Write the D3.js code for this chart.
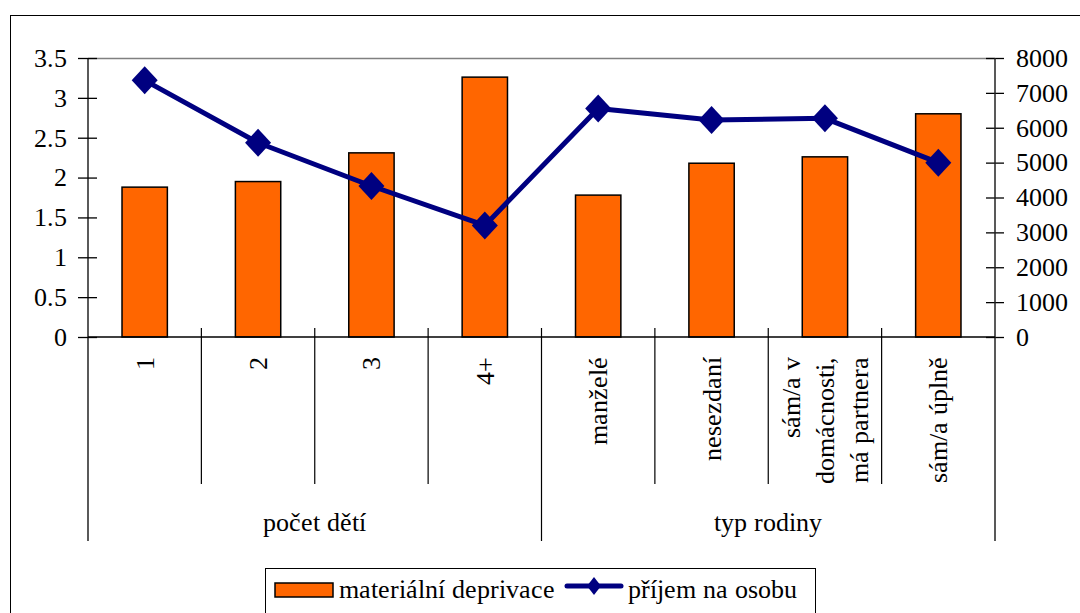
<!DOCTYPE html>
<html>
<head>
<meta charset="utf-8">
<script src="https://cdn.jsdelivr.net/npm/d3@7/dist/d3.min.js"></script>
<style>
  @font-face { font-family: "ChartSerif"; src: local("Liberation Serif"), local("LiberationSerif"), local("Liberation Serif Regular"), local("LiberationSerif-Regular"); }
</style>
</head>
<body style="margin:0">
<svg id="chart" width="1080" height="613"></svg>
<script>
// ---- data ----
const categories = ["1", "2", "3", "4+", "manželé", "nesezdaní", "sám/a v|domácnosti,|má partnera", "sám/a úplně"];
const groups = ["počet dětí", "typ rodiny"];
const groupSizes = [4, 4];
const deprivace = [1.88, 1.95, 2.31, 3.26, 1.78, 2.18, 2.26, 2.80];
const prijem = [7360, 5570, 4330, 3200, 6550, 6220, 6270, 5000];
const leftTicks = [0, 0.5, 1, 1.5, 2, 2.5, 3, 3.5];
const rightTicks = [0, 1000, 2000, 3000, 4000, 5000, 6000, 7000, 8000];
const seriesNames = ["materiální deprivace", "příjem na osobu"];

// ---- layout ----
const svg = d3.select("#chart");
const L = 88, R = 995, T = 58, B = 337;
const FS = "26px";
const FF = '"ChartSerif", "Liberation Serif", "Times New Roman", serif';
const barColor = "#FF6600", lineColor = "#000080";
const txt = sel => sel.style("font-family", FF, "important").style("font-size", FS, "important").attr("fill", "#000");

// outer border
svg.append("rect").attr("x", 10.5).attr("y", 15.5).attr("width", 1100).attr("height", 700)
  .attr("fill", "none").attr("stroke", "#000").attr("stroke-width", 1);

const x = d3.scaleBand().domain(categories).range([L, R]).paddingInner(0).paddingOuter(0);
const yL = d3.scaleLinear().domain([0, 3.5]).range([B, T]);
const yR = d3.scaleLinear().domain([0, 8000]).range([B, T]);

// plot area top border
svg.append("line").attr("x1", L).attr("x2", R).attr("y1", T + 0.5).attr("y2", T + 0.5)
  .attr("stroke", "#808080").attr("stroke-width", 1.5);

// bars
const bw = x.bandwidth() * 0.4;
svg.append("g").selectAll("rect").data(categories).join("rect")
  .attr("x", d => x(d) + x.bandwidth() / 2 - bw / 2)
  .attr("y", (d, i) => yL(deprivace[i]))
  .attr("width", bw)
  .attr("height", (d, i) => B - yL(deprivace[i]))
  .attr("fill", barColor).attr("stroke", "#000").attr("stroke-width", 1.5);

// left axis
const gl = svg.append("g").attr("transform", `translate(${L},0)`)
  .call(d3.axisLeft(yL).tickValues(leftTicks).tickSize(10).tickSizeOuter(0).tickFormat(d3.format("")));
gl.attr("font-family", FF).attr("font-size", 26);
gl.select(".domain").remove();
gl.selectAll(".tick line").attr("x1", -10).attr("x2", 9).attr("stroke", "#000").attr("stroke-width", 1.3);
gl.selectAll(".tick text").attr("x", -21).call(txt);
svg.append("line").attr("x1", L).attr("x2", L).attr("y1", T).attr("y2", 541).attr("stroke", "#000").attr("stroke-width", 1.3);

// right axis
const gr = svg.append("g").attr("transform", `translate(${R},0)`)
  .call(d3.axisRight(yR).tickValues(rightTicks).tickSize(10).tickSizeOuter(0).tickFormat(d3.format("d")));
gr.attr("font-family", FF).attr("font-size", 26);
gr.select(".domain").remove();
gr.selectAll(".tick line").attr("x1", -9).attr("x2", 9).attr("stroke", "#000").attr("stroke-width", 1.3);
gr.selectAll(".tick text").attr("x", 21).call(txt);
svg.append("line").attr("x1", R).attr("x2", R).attr("y1", T).attr("y2", 541).attr("stroke", "#222").attr("stroke-width", 1.5);

// category axis
svg.append("line").attr("x1", L).attr("x2", R).attr("y1", B).attr("y2", B).attr("stroke", "#000").attr("stroke-width", 1.5);
const boundaries = categories.slice(1).map(c => x(c));
let acc = 0;
const groupBounds = [];
groupSizes.forEach((s, i) => { acc += s; if (i < groupSizes.length - 1) groupBounds.push(x(categories[acc])); });
svg.append("g").selectAll("line").data(boundaries).join("line")
  .attr("x1", d => d).attr("x2", d => d)
  .attr("y1", 328)
  .attr("y2", d => groupBounds.includes(d) ? 541 : 484)
  .attr("stroke", "#000").attr("stroke-width", 1.2);

// category labels (rotated)
categories.forEach((c, i) => {
  const lines = c.split("|");
  const cx = x(c) + x.bandwidth() / 2;
  const sp = 34;
  lines.forEach((ln, j) => {
    const lx = cx + (j - (lines.length - 1) / 2) * sp;
    svg.append("text")
      .attr("transform", `translate(${lx + 9},357) rotate(-90)`)
      .attr("text-anchor", "end")
      .call(txt)
      .text(ln);
  });
});

// group labels
let start = 0;
groups.forEach((g, i) => {
  const first = categories[start], last = categories[start + groupSizes[i] - 1];
  const gx = (x(first) + x(last) + x.bandwidth()) / 2;
  svg.append("text").attr("x", gx).attr("y", 531).attr("text-anchor", "middle")
    .call(txt).text(g);
  start += groupSizes[i];
});

// line series
const line = d3.line().x((d, i) => x(categories[i]) + x.bandwidth() / 2).y(d => yR(d));
svg.append("path").datum(prijem).attr("d", line).attr("fill", "none")
  .attr("stroke", lineColor).attr("stroke-width", 5).attr("stroke-linejoin", "round");
const diamond = (hw, hh) => `M0,${-hh}L${hw},0L0,${hh}L${-hw},0Z`;
svg.append("g").selectAll("path").data(prijem).join("path")
  .attr("transform", (d, i) => `translate(${x(categories[i]) + x.bandwidth() / 2},${yR(d)})`)
  .attr("d", diamond(13, 14)).attr("fill", lineColor);

// legend
const lg = svg.append("g");
lg.append("rect").attr("x", 265.5).attr("y", 568.5).attr("width", 550).attr("height", 60)
  .attr("fill", "#fff").attr("stroke", "#000").attr("stroke-width", 1);
lg.append("rect").attr("x", 275).attr("y", 583).attr("width", 58).attr("height", 14)
  .attr("fill", barColor).attr("stroke", "#000").attr("stroke-width", 1.5);
lg.append("text").attr("x", 339).attr("y", 598).call(txt).text(seriesNames[0]);
lg.append("line").attr("x1", 567).attr("x2", 621).attr("y1", 586).attr("y2", 586)
  .attr("stroke", lineColor).attr("stroke-width", 5).attr("stroke-linecap", "round");
lg.append("path").attr("transform", "translate(594,586)").attr("d", diamond(7, 9)).attr("fill", lineColor);
lg.append("text").attr("x", 628).attr("y", 598).call(txt).text(seriesNames[1]);
</script>
</body>
</html>
